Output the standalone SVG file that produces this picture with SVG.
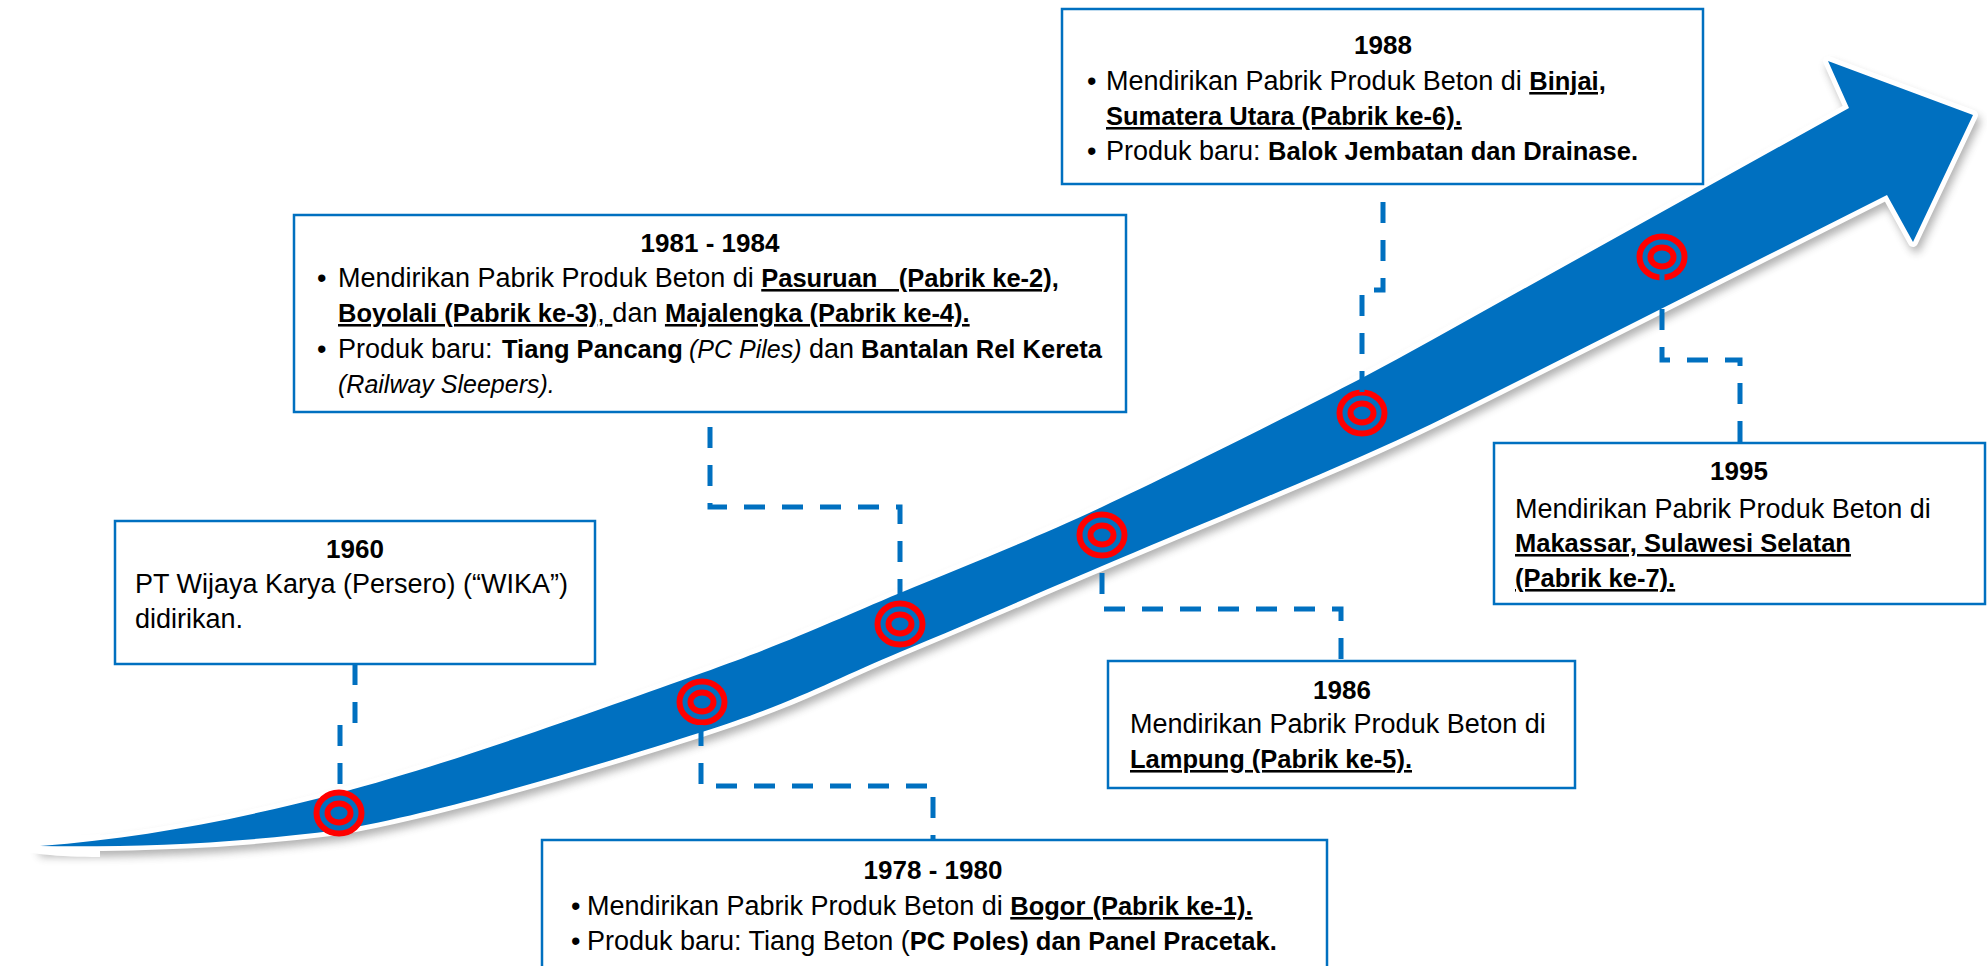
<svg xmlns="http://www.w3.org/2000/svg" width="1987" height="966" viewBox="0 0 1987 966">
<defs>
<style>
.box{fill:#fff;stroke:#0070C0;stroke-width:2.5}
.t{font-family:"Liberation Sans",Arial,sans-serif;font-size:27px;fill:#000}
.title{font-family:"Liberation Sans",Arial,sans-serif;font-weight:bold;font-size:26px;text-anchor:middle;fill:#000}
.b{font-weight:bold;font-size:25.5px}
.u{text-decoration:underline}
.i{font-style:italic;font-size:25px}
.conn{fill:none;stroke:#0070C0;stroke-width:5;stroke-dasharray:21 17}
.ring{fill:#0070C0;stroke:#FF0000;stroke-width:6}
</style>
<filter id="sh" x="-10%" y="-10%" width="120%" height="130%">
<feGaussianBlur stdDeviation="4"/>
</filter>
<path id="arrowShape" d="M40,846 C140,838 228.7,821.8 339,793 C449.3,764.2 608.5,706.3 702,673 C795.5,639.7 833.3,620.7 900,593 C966.7,565.3 1025,542.8 1102,507 C1179,471.2 1295.7,412.2 1362,378 C1408,354 1454,327.5 1500,302 L1849,108 L1828,61 L1973,115 L1913,242 L1887,195 L1500,390 C1454,413 1408,436 1362,456 C1295.7,485.3 1179,533.3 1102,566 C1025,598.7 966.7,624.3 900,652 C833.3,679.7 795.5,702.3 702,732 C608.5,761.7 449.3,811 339,830 C229,844 140,847 40,846 Z"/>
</defs>
<rect width="1987" height="966" fill="#fff"/>

<g id="arrow">
<g transform="translate(3,6)" filter="url(#sh)" opacity="0.45">
<use href="#arrowShape" fill="#555" stroke="#555" stroke-width="9" stroke-linejoin="round"/>
</g>
<use href="#arrowShape" fill="#fff" stroke="#fff" stroke-width="10" stroke-linejoin="round"/>
<path d="M8,846 C20,838 60,836 100,834 L100,857 C60,857 20,854 8,846 Z" fill="#fff"/>
<use href="#arrowShape" fill="#0070C0"/>
</g>

<g id="markers">
<g id="ring-1960"><ellipse class="ring" cx="339" cy="813" rx="22.5" ry="20.5"/><ellipse class="ring" cx="339" cy="813" rx="11.5" ry="9.5"/></g>
<g id="ring-1978"><ellipse class="ring" cx="702" cy="702" rx="22.5" ry="20.5"/><ellipse class="ring" cx="702" cy="702" rx="11.5" ry="9.5"/></g>
<g id="ring-1981"><ellipse class="ring" cx="900" cy="624" rx="22.5" ry="20.5"/><ellipse class="ring" cx="900" cy="624" rx="11.5" ry="9.5"/></g>
<g id="ring-1986"><ellipse class="ring" cx="1102" cy="535" rx="22.5" ry="20.5"/><ellipse class="ring" cx="1102" cy="535" rx="11.5" ry="9.5"/></g>
<g id="ring-1988"><ellipse class="ring" cx="1362" cy="413" rx="22.5" ry="20.5"/><ellipse class="ring" cx="1362" cy="413" rx="11.5" ry="9.5"/></g>
<g id="ring-1995"><ellipse class="ring" cx="1662" cy="257" rx="22.5" ry="20.5"/><ellipse class="ring" cx="1662" cy="257" rx="11.5" ry="9.5"/></g>
</g>

<g id="connectors">
<path class="conn" d="M355,664 V725 H340 V790"/>
<path class="conn" d="M701,725 V786 H933 V840"/>
<path class="conn" d="M900,600 V507 H710 V412"/>
<path class="conn" d="M1102,573 V609 H1341 V662"/>
<path class="conn" d="M1362,392 V290 H1383 V184"/>
<path class="conn" d="M1662,271 V360 H1740 V442"/>
</g>

<g id="node-1960">
<rect class="box" x="115" y="521" width="480" height="143"/>
<text class="title" x="355" y="558">1960</text>
<text class="t" x="135" y="593">PT Wijaya Karya (Persero) (“WIKA”)</text>
<text class="t" x="135" y="628">didirikan.</text>
</g>

<g id="node-1978">
<rect class="box" x="542" y="840" width="785" height="140"/>
<text class="title" x="933" y="879">1978 - 1980</text>
<text class="t" x="571" y="915">•</text>
<text class="t" x="587" y="915" xml:space="preserve">Mendirikan Pabrik Produk Beton di <tspan class="b u">Bogor (Pabrik ke-1).</tspan></text>
<text class="t" x="571" y="950">•</text>
<text class="t" x="587" y="950" xml:space="preserve">Produk baru: Tiang Beton (<tspan class="b">PC Poles) dan Panel Pracetak.</tspan></text>
</g>

<g id="node-1981">
<rect class="box" x="294" y="215" width="832" height="197"/>
<text class="title" x="710" y="252">1981 - 1984</text>
<text class="t" x="317" y="287">•</text>
<text class="t" x="338" y="287" xml:space="preserve">Mendirikan Pabrik Produk Beton di <tspan class="b u">Pasuruan   (Pabrik ke-2),</tspan></text>
<text class="t" x="338" y="322" xml:space="preserve"><tspan class="b u">Boyolali (Pabrik ke-3)</tspan><tspan class="u">, </tspan>dan <tspan class="b u">Majalengka (Pabrik ke-4).</tspan></text>
<text class="t" x="317" y="358">•</text>
<text class="t" y="358"><tspan x="338">Produk baru:</tspan><tspan class="b" x="502">Tiang Pancang</tspan><tspan class="i" x="689">(PC Piles)</tspan><tspan x="809">dan</tspan><tspan class="b" x="861">Bantalan Rel Kereta</tspan></text>
<text class="t i" x="338" y="393">(Railway Sleepers).</text>
</g>

<g id="node-1986">
<rect class="box" x="1108" y="661" width="467" height="127"/>
<text class="title" x="1342" y="699">1986</text>
<text class="t" x="1130" y="733">Mendirikan Pabrik Produk Beton di</text>
<text class="t b u" x="1130" y="768">Lampung (Pabrik ke-5).</text>
</g>

<g id="node-1988">
<rect class="box" x="1062" y="9" width="641" height="175"/>
<text class="title" x="1383" y="54">1988</text>
<text class="t" x="1087" y="90">•</text>
<text class="t" x="1106" y="90" xml:space="preserve">Mendirikan Pabrik Produk Beton di <tspan class="b u">Binjai,</tspan></text>
<text class="t b u" x="1106" y="125">Sumatera Utara (Pabrik ke-6).</text>
<text class="t" x="1087" y="160">•</text>
<text class="t" x="1106" y="160" xml:space="preserve">Produk baru: <tspan class="b">Balok Jembatan dan Drainase.</tspan></text>
</g>

<g id="node-1995">
<rect class="box" x="1494" y="443" width="491" height="161"/>
<text class="title" x="1739" y="480">1995</text>
<text class="t" x="1515" y="518">Mendirikan Pabrik Produk Beton di</text>
<text class="t b u" x="1515" y="552">Makassar, Sulawesi Selatan</text>
<text class="t b u" x="1515" y="587">(Pabrik ke-7).</text>
</g>
</svg>
